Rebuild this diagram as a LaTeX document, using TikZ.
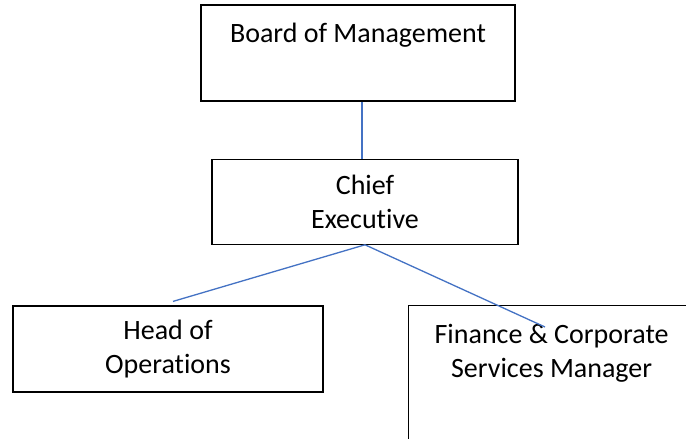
\documentclass[tikz,border=0pt]{standalone}
\usepackage{fontspec}
\setmainfont{Carlito}[Ligatures=NoCommon]
\usetikzlibrary{positioning, calc}
\definecolor{linkblue}{HTML}{4472C4}

\begin{document}
\begin{tikzpicture}[x=0.5pt, y=-0.5pt, semithick]
    \tikzstyle{box}=[
        draw = black,
        line width = 0.6pt,
        inner sep = 0pt,
        align = center,
        font = \fontsize{14}{17}\selectfont
    ]
    \tikzstyle{link}=[draw = linkblue, line width = 0.65pt]
    \clip (0,0) rectangle (686,439);
    \fill[white] (0,0) rectangle (686,439);
    \begin{scope}[node distance=28.5pt]
      \node[box, minimum width=157pt, minimum height=48pt] (board) at (358,53) {};
      \node[box, minimum width=153pt, minimum height=42.5pt, below=of board, xshift=3.5pt] (chief) {Chief\\Executive};
      \node[box, minimum width=155pt, minimum height=43pt] (head) at (168,349) {Head of\\Operations};
      \node[box, minimum width=143pt, minimum height=90pt, anchor=north west] (finance) at (408,305) {};
    \end{scope}
    \node[box, draw=none, anchor=base] (boardtext) at ($(board.north)+(0,38)$) {Board of Management};
    \node[box, draw=none, anchor=base] (fintext) at ($(finance.north)+(0,72)$) {Finance \& Corporate\\Services Manager};
    \coordinate (headtip) at ($(head.north)+(5,-4)$);
    \coordinate (fintip) at (545,327);
    \path[link] ([xshift=-1.5pt]chief.north) edge ([xshift=-1.5pt]chief.north |- board.south)
             (chief.south) edge (headtip)
             (chief.south) edge (fintip);
\end{tikzpicture}
\end{document}
